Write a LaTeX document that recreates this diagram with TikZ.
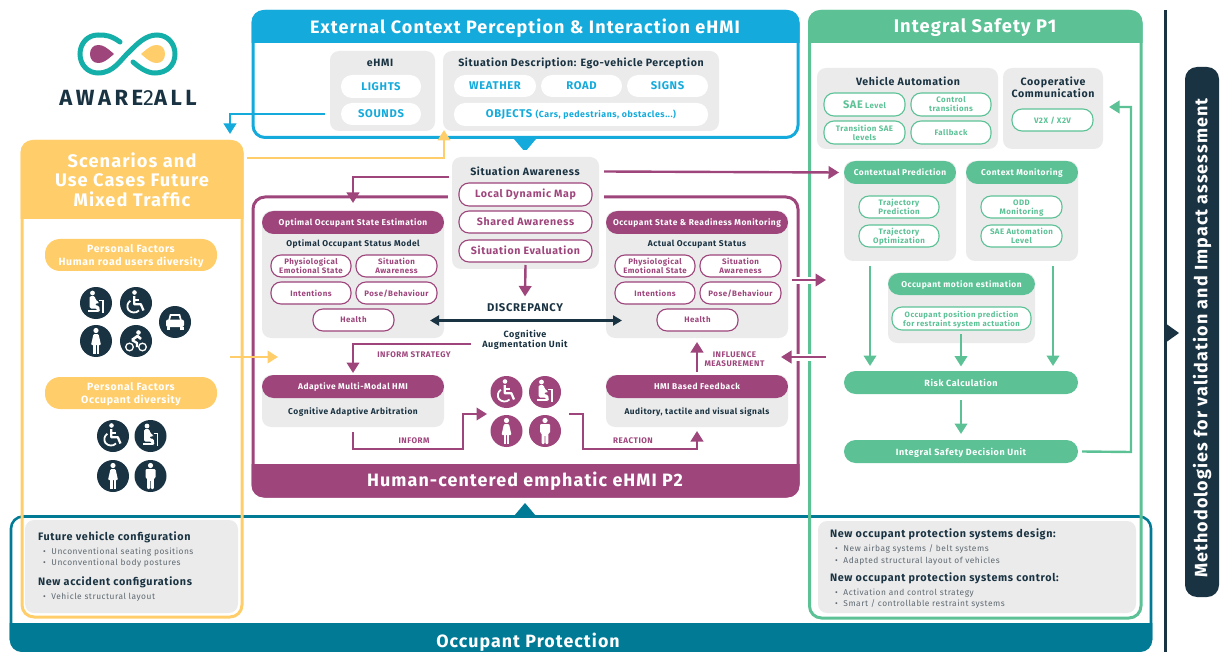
\documentclass[tikz,border=0pt]{standalone}
\usepackage{fontspec}
\setmainfont{Fira Sans}[LetterSpace=6]
\usetikzlibrary{arrows.meta}
\definecolor{cblue}{HTML}{14ABDC}
\definecolor{cyel}{HTML}{FFCE6A}
\definecolor{cpur}{HTML}{9E457C}
\definecolor{cgrn}{HTML}{5CC296}
\definecolor{cteal}{HTML}{017A96}
\definecolor{cdark}{HTML}{1A3342}
\definecolor{cgrey}{HTML}{EBEBEB}
\definecolor{ctext}{HTML}{5F6A72}
\definecolor{clogo}{HTML}{14AFA8}
\newcommand{\ft}[2]{\fontsize{#1}{#2}\selectfont}
\newcommand{\BX}[7]{\node[#1,minimum width={(#4)-(#2)},minimum height={(#5)-(#3)}] (#6) at ({((#2)+(#4))/2},{((#3)+(#5))/2}) {#7};}
\tikzset{
 bxbase/.style={rectangle,inner sep=0pt,outer sep=0pt,align=center},
 greyb/.style={bxbase,fill=cgrey,rounded corners=9pt},
 framed/.style={bxbase,draw=#1,line width=3pt,rounded corners=12pt},
 pillP/.style={bxbase,draw=cpur,fill=white,line width=1.1pt,rounded corners=10pt,text=cpur,text depth=0pt,font=\bfseries\ft{7.9}{9}},
 pillPL/.style={pillP,text depth=2pt,font=\bfseries\ft{10.6}{12}},
 pillG/.style={bxbase,draw=cgrn,fill=white,line width=1.1pt,rounded corners=10pt,text=cgrn,text depth=0pt,font=\bfseries\ft{7.9}{9}},
 pillB/.style={bxbase,fill=white,rounded corners=11pt,text=cblue,font=\bfseries\ft{11.2}{12}},
 headP/.style={bxbase,fill=cpur,rounded corners=11.5pt,text=white,text depth=0pt,font=\bfseries\ft{8.4}{10}},
 headG/.style={bxbase,fill=cgrn,rounded corners=11.5pt,text=white,text depth=0pt,font=\bfseries\ft{8.4}{10}},
 headY/.style={bxbase,fill=cyel,rounded corners=15pt,text=white,text depth=0pt,font=\bfseries\ft{10.5}{13}},
 ttl/.style={inner sep=0pt,outer sep=0pt,text=cdark,align=center,font=\bfseries\ft{#1}{12}},
 lbl/.style={inner sep=0pt,outer sep=0pt,text=cpur,align=center,font=\bfseries\ft{8.1}{8.8}},
 big/.style={inner sep=0pt,outer sep=0pt,text=white,align=center,font=\bfseries\ft{#1}{19.5}},
 bul/.style={inner sep=0pt,outer sep=0pt,anchor=west,text=ctext,font=\ft{8.4}{10}},
 hd/.style={inner sep=0pt,outer sep=0pt,anchor=west,text=cdark,font=\bfseries\ft{10.8}{11}},
 arw/.style={line width=2.4pt,-{Triangle[width=12.5pt,length=10.5pt]},draw=#1},
 halo/.style={draw=white,line width=7pt},
 iconP/.style={circle,inner sep=0pt,minimum size=32pt,fill=cpur},
 iconD/.style={circle,inner sep=0pt,minimum size=32pt,fill=cdark},
 icwheel/.pic={
  \fill[white] (-1.5,-10.5) circle (2.3);
  \draw[white,line width=2.3pt,line join=round] (-1.8,-7)--(-1.8,1.2)--(4.8,1.2)--(7.5,7.5);
  \draw[white,line width=1.8pt] (-1.8,-3)--(3,-3);
  \draw[white,line width=1.8pt] (-5.6,-2.2) .. controls (-9,0) and (-9.5,4) .. (-7.5,7) .. controls (-5,10) and (0,10.5) .. (3,7.5);
 },
 icseat/.pic={
  \fill[white] (-3.5,-10) circle (2.4);
  \fill[white,rounded corners=1.5pt] (-6.5,-7)--(-1,-7)--(-0.5,-3)--(3,-1)--(2.5,1)--(-1,0)--(-1,2.5)--(3,2.5)--(4,9)--(1.5,9)--(1,5.5)--(-6.5,5.5)--cycle;
  \draw[white,line width=1.5pt] (3,-2.5)--(7,-2.5)--(7,9.5);
  \fill[white] (-8,7)--(2,7)--(2,9)--(-8,9)--cycle;
 },
 icwoman/.pic={
  \fill[white] (0,-10.5) circle (2.6);
  \fill[white,rounded corners=1pt] (-2.5,-7)--(2.5,-7)--(5,4)--(-5,4)--cycle;
  \fill[white] (-2.6,4)--(-0.5,4)--(-0.5,13)--(-2.6,13)--cycle;
  \fill[white] (0.5,4)--(2.6,4)--(2.6,13)--(0.5,13)--cycle;
 },
 icman/.pic={
  \fill[white] (0,-10.5) circle (2.6);
  \fill[white,rounded corners=1pt] (-5,-7)--(5,-7)--(5,2)--(3.4,2)--(3.4,13)--(0.4,13)--(0.4,4)--(-0.4,4)--(-0.4,13)--(-3.4,13)--(-3.4,2)--(-5,2)--cycle;
 },
 icbike/.pic={
  \draw[white,line width=1.3pt] (-6.5,6) circle (3.8);
  \draw[white,line width=1.3pt] (6.5,6) circle (3.8);
  \fill[white] (2.5,-8.5) circle (2.3);
  \draw[white,line width=2.6pt,line join=round] (-4,-1)--(1.5,-5)--(5,-2);
  \draw[white,line width=2.4pt,line join=round] (-4,-1)--(1,2)--(1,6);
 },
 iccar/.pic={
  \draw[white,line width=1.7pt] (-6,-1.5)--(-4.5,-7)--(4.5,-7)--(6,-1.5);
  \fill[white,rounded corners=2pt] (-9,-2.5)--(9,-2.5)--(9,5)--(-9,5)--cycle;
  \fill[white] (-8.5,5)--(-5,5)--(-5,8)--(-8.5,8)--cycle;
  \fill[white] (5,5)--(8.5,5)--(8.5,8)--(5,8)--cycle;
 },
}
\begin{document}
\begin{tikzpicture}[x=1pt,y=-1pt]
\useasboundingbox (0,0) rectangle (1220,652);
% ---- Occupant protection (teal)
\draw[cteal,line width=2.6pt,rounded corners=12pt] (11,640)--(11,516.5)--(1151,516.5)--(1151,640);
\fill[cteal] (9.7,623) {[rounded corners=12pt]--(9.7,652)--(1152.3,652)}--(1152.3,623)--cycle;
\node[big=17.8] (optitle) at (528,642) {Occupant Protection};
\fill[cteal] (514,516) -- (525,503) -- (536,516) -- cycle;
% ---- Logo
\draw[clogo,line width=5pt,line cap=round] (120,42) .. controls (112,36) and (105,34.5) .. (98,35) .. controls (87,35) and (80,44) .. (80,54) .. controls (80,65) and (88,73) .. (98,73) .. controls (114,73) and (120,60) .. (130,51) .. controls (138,43) and (146,35) .. (157,35) .. controls (168,35) and (175,44) .. (175,54) .. controls (175,65) and (167,73) .. (155,73) .. controls (147,73) and (140,68) .. (133,62);
\fill[cpur] (114,54) .. controls (106,47) and (103,45) .. (98,45) .. controls (93,45) and (90,49) .. (90,54) .. controls (90,59) and (93,63) .. (98,63) .. controls (103,63) and (106,61) .. (114,54) -- cycle;
\fill[cyel] (141,54) .. controls (149,47) and (152,45) .. (157,45) .. controls (162,45) and (165,49) .. (165,54) .. controls (165,59) and (162,63) .. (157,63) .. controls (152,63) and (149,61) .. (141,54) -- cycle;
\node[inner sep=0pt,text=cdark,font=\bfseries\ft{22}{24}\addfontfeature{LetterSpace=16}] (logotext) at (128,98) {AWARE{\mdseries 2}ALL};
% ---- External context (blue)
\BX{framed=cblue}{253}{11.5}{798}{137.5}{extbox}{}
\fill[cblue] (251.5,43) {[rounded corners=12pt]--(251.5,10)--(799.5,10)}--(799.5,43)--cycle;
\node[big=18] (exttitle) at (525,28) {External Context Perception \& Interaction eHMI};
\fill[cblue] (514,139) -- (525,152) -- (536,139) -- cycle;
\BX{greyb}{330}{51}{435}{131}{ehmi}{}
\node[ttl=10.6] (ehmit) at (380,63) {eHMI};
\BX{pillB}{341}{75}{421}{98}{lights}{LIGHTS}
\BX{pillB}{341}{103}{421}{125}{sounds}{SOUNDS}
\BX{greyb}{443}{51}{719}{131}{sdesc}{}
\node[ttl=10.6] (sdesct) at (581,63) {Situation Description: Ego-vehicle Perception};
\BX{pillB}{454}{75}{536}{97}{weather}{WEATHER}
\BX{pillB}{541}{75}{622}{97}{road}{ROAD}
\BX{pillB}{627}{75}{708}{97}{signs}{SIGNS}
\BX{pillB}{454}{103}{708}{126}{objects}{OBJECTS {\ft{8.8}{10}(Cars, pedestrians, obstacles...)}}
% ---- Integral safety (green) frame
\BX{framed=cgrn}{809.5}{11.5}{1141}{618}{grnbox}{}
\fill[cgrn] (808,43) {[rounded corners=12pt]--(808,10)--(1142.5,10)}--(1142.5,43)--cycle;
\node[big=18.3] (grntitle) at (975,27.5) {Integral Safety P1};
\BX{greyb}{817}{68}{998}{149}{vauto}{}
\node[ttl=10.6] (vautot) at (908,81) {Vehicle Automation};
\BX{pillG}{824}{93}{905}{116}{sae}{{\ft{11}{12}SAE} Level}
\BX{pillG}{911}{93}{991}{116}{ctrans}{Control\\transitions}
\BX{pillG}{824}{121}{905}{144}{trsae}{Transition SAE\\levels}
\BX{pillG}{911}{121}{991}{144}{fallb}{Fallback}
\BX{greyb}{1003}{68}{1103}{149}{coop}{}
\node[ttl=10.6] (coopt) at (1053,87) {Cooperative\\Communication};
\BX{pillG}{1012}{109}{1093}{131}{v2x}{V2X / X2V}
\BX{greyb}{844}{161}{956}{261}{cpred}{}
\BX{headG}{844}{161}{956}{184}{cpredh}{Contextual Prediction}
\BX{pillG}{859}{196}{939}{218}{tpred}{Trajectory\\Prediction}
\BX{pillG}{859}{225}{939}{247}{topt}{Trajectory\\Optimization}
\BX{greyb}{966}{161}{1078}{261}{cmon}{}
\BX{headG}{966}{161}{1078}{184}{cmonh}{Context Monitoring}
\BX{pillG}{981}{196}{1062}{218}{oddm}{ODD\\Monitoring}
\BX{pillG}{981}{225}{1062}{247}{saeal}{SAE Automation\\Level}
\BX{greyb}{888}{273}{1035}{343}{omot}{}
\BX{headG}{888}{273}{1035}{295}{omoth}{Occupant motion estimation}
\BX{pillG,font=\bfseries\ft{7.7}{9}}{892}{307}{1031}{330}{opos}{Occupant position prediction\\for restraint system actuation}
\BX{headG,font=\bfseries\ft{9}{10}}{844}{371}{1078}{394}{risk}{Risk Calculation}
\BX{headG,font=\bfseries\ft{9}{10}}{844}{440}{1078}{463}{decis}{Integral Safety Decision Unit}
\draw[arw=cgrn] ([yshift=-5pt]cpred.south -| 870,0) -- (870,366);
\draw[arw=cgrn] ([yshift=9pt]omot.south -| 961,0) -- ([yshift=4.5pt]risk.north -| 961,0);
\draw[arw=cgrn] ([yshift=-5pt]cmon.south -| 1053,0) -- (1053,366);
\draw[arw=cgrn] ([yshift=-6pt]risk.south) -- ([yshift=6pt]decis.north);
\coordinate (fbk) at (1131,452);
\draw[arw=cgrn] ([xshift=4pt]decis.east) -- (fbk) -- (1131,107) -- ([xshift=6pt]coop.east |- 0,107);
% ---- Purple frame
\BX{framed=cpur}{253}{197}{798}{496}{purbox}{}
\fill[cpur] (251.5,464) -- (799.5,464) {[rounded corners=12pt]--(799.5,497.5)--(251.5,497.5)}--cycle;
\node[big=17.9] (purtitle) at (525,481) {Human-centered emphatic eHMI P2};
% ---- Situation awareness
\fill[white] (448,150) rectangle (604,272);
\BX{greyb}{452}{157}{599}{269}{sa}{}
\node[ttl=10.6] (sat) at (525,171) {Situation Awareness};
\BX{pillPL}{459}{183}{592}{206}{ldm}{Local Dynamic Map}
\BX{pillPL}{459}{211}{592}{233}{shaw}{Shared Awareness}
\BX{pillPL}{459}{240}{592}{262}{sev}{Situation Evaluation}
\node[ttl=11.2] (disc) at (525,308) {DISCREPANCY};
\node[inner sep=0pt,outer sep=0pt,text=cdark,align=center,font=\bfseries\ft{9}{10}] (cogn) at (525,340) {Cognitive\\Augmentation Unit};
% left column
\BX{greyb}{262}{211}{444}{338}{oses}{}
\BX{headP}{262}{211}{444}{234}{osesh}{Optimal Occupant State Estimation}
\node[ttl=8.4] (osest) at (353,244) {Optimal Occupant Status Model};
\BX{pillP}{271}{255}{351}{277}{lp1}{Physiological\\Emotional State}
\BX{pillP}{356}{255}{437}{277}{lp2}{Situation\\Awareness}
\BX{pillP}{271}{282}{351}{304}{lp3}{Intentions}
\BX{pillP}{356}{282}{437}{304}{lp4}{Pose/Behaviour}
\BX{pillP}{313}{309}{394}{331}{lp5}{Health}
% right column
\BX{greyb}{606}{211}{788}{338}{osrm}{}
\BX{headP}{606}{211}{788}{234}{osrmh}{Occupant State \& Readiness Monitoring}
\node[ttl=8.4] (osrmt) at (697,244) {Actual Occupant Status};
\BX{pillP}{615}{255}{695}{277}{rp1}{Physiological\\Emotional State}
\BX{pillP}{700}{255}{781}{277}{rp2}{Situation\\Awareness}
\BX{pillP}{615}{282}{695}{304}{rp3}{Intentions}
\BX{pillP}{700}{282}{781}{304}{rp4}{Pose/Behaviour}
\BX{pillP}{657}{309}{738}{331}{rp5}{Health}
% lower boxes
\BX{greyb}{262}{375}{444}{427}{ammh}{}
\BX{headP}{262}{375}{444}{398}{ammhh}{Adaptive Multi-Modal HMI}
\node[ttl=8.4] (cogarb) at (353,412) {Cognitive Adaptive Arbitration};
\BX{greyb}{606}{375}{788}{427}{hmif}{}
\BX{headP}{606}{375}{788}{398}{hmifh}{HMI Based Feedback}
\node[ttl=8.3] (audit) at (697,412) {Auditory, tactile and visual signals};
% people
\node[iconP] (p1) at (506.5,392) {}; \pic at (p1) {icwheel};
\node[iconP] (p2) at (545,392) {}; \pic at (p2) {icseat};
\node[iconP] (p3) at (506.5,431) {}; \pic at (p3) {icwoman};
\node[iconP] (p4) at (545,431) {}; \pic at (p4) {icman};
% purple connectors
\coordinate (saL) at (449,177);
\coordinate (saR) at (604,171.5);
\draw[arw=cpur] (saL) -- (353,177) -- ([yshift=8pt]osesh.north);
\draw[arw=cpur] (saR) -- ([xshift=-5pt]cpredh.west);
\draw[arw=cpur] ([yshift=4pt]sa.south) -- ([yshift=7.5pt]disc.north);
\draw[cdark,line width=2.2pt,{Triangle[width=10pt,length=9pt]}-{Triangle[width=10pt,length=9pt]}] (430,320.5) -- (622,320.5);
\coordinate (cauL) at (471,344);
\draw[arw=cpur] (cauL) -- (353,344) -- ([yshift=2pt]ammhh.north);
\node[lbl] (linf) at (414,355) {INFORM STRATEGY};
\coordinate (ammS) at (353,432);
\coordinate (pIn) at (487,414);
\draw[arw=cpur] (ammS) -- (353,449) -- (463,449) -- (463,414) -- (pIn);
\node[lbl] (linform) at (414,441) {INFORM};
\coordinate (pOut) at (569,414);
\coordinate (fbIn) at (697,431);
\draw[arw=cpur] (pOut) -- (583,414) -- (583,449) -- (697,449) -- (fbIn);
\node[lbl] (lreact) at (633,441) {REACTION};
\draw[arw=cpur] ([yshift=3pt]hmifh.north) -- ([yshift=-4pt]osrm.south);
\node[lbl] (lmeas) at (734.5,359) {INFLUENCE\\MEASUREMENT};
% crossing arrows
\draw[halo] (792,280) -- (819,280);
\draw[arw=cpur] (792,280) -- ([xshift=1pt]825,280);
\draw[halo] (826,357) -- (786,357);
\draw[arw=cpur] (826,357) -- ([xshift=-1pt]782,357);
% ---- Yellow frame
\BX{framed=cyel}{22}{141.5}{242}{617}{yelbox}{}
\fill[cyel] (20.5,219) {[rounded corners=12pt]--(20.5,140)--(243.5,140)}--(243.5,219)--cycle;
\node[big=18.2] (yeltitle) at (132,179.3) {Scenarios and\\Use Cases Future\\Mixed Traffic};
\BX{headY}{45}{239}{217}{271}{pf1}{Personal Factors\\Human road users diversity}
\node[iconD] (d1) at (96,303) {}; \pic at (d1) {icseat};
\node[iconD] (d2) at (136,303) {}; \pic at (d2) {icwheel};
\node[iconD] (d3) at (175,322) {}; \pic at (d3) {iccar};
\node[iconD] (d4) at (96,341) {}; \pic at (d4) {icwoman};
\node[iconD] (d5) at (136,341) {}; \pic at (d5) {icbike};
\BX{headY}{45}{377}{217}{409}{pf2}{Personal Factors\\Occupant diversity}
\node[iconD] (e1) at (113,436) {}; \pic at (e1) {icwheel};
\node[iconD] (e2) at (150.5,436) {}; \pic at (e2) {icseat};
\node[iconD] (e3) at (113,476) {}; \pic at (e3) {icwoman};
\node[iconD] (e4) at (150.5,476) {}; \pic at (e4) {icman};
\coordinate (yelOut) at (247,158);
\draw[arw=cyel] (yelOut) -- (444,158) -- (444,130);
\coordinate (yelMid) at (230,357);
\draw[arw=cyel] (yelMid) -- (278,357);
\draw[arw=cblue] ([xshift=-5pt]ehmi.west |- sounds.center) -- (230,114) -- (230,134);
% ---- Protection detail boxes
\BX{greyb}{25}{520}{238}{613}{fvc}{}
\node[hd] (fvc1) at (38,537) {Future vehicle configuration};
\node[bul] (fvc2) at (43,552) {•\hspace{3pt} Unconventional seating positions};
\node[bul] (fvc3) at (43,563) {•\hspace{3pt} Unconventional body postures};
\node[hd] (fvc4) at (38,582) {New accident configurations};
\node[bul] (fvc5) at (43,597) {•\hspace{3pt} Vehicle structural layout};
\BX{greyb}{818}{521}{1136}{613}{nops}{}
\node[hd] (nops1) at (830,534) {New occupant protection systems design:};
\node[bul] (nops2) at (835,549) {•\hspace{3pt} New airbag systems / belt systems};
\node[bul] (nops3) at (835,561) {•\hspace{3pt} Adapted structural layout of vehicles};
\node[hd] (nops4) at (830,578) {New occupant protection systems control:};
\node[bul] (nops5) at (835,593) {•\hspace{3pt} Activation and control strategy};
\node[bul] (nops6) at (835,604) {•\hspace{3pt} Smart / controllable restraint systems};
% ---- Methodologies
\draw[cdark,line width=3pt] (1165,10) -- (1165,652);
\fill[cdark] (1165,323) -- (1179,333) -- (1165,343) -- cycle;
\BX{bxbase,fill=cdark,rounded corners=12pt}{1185}{67}{1219}{597}{meth}{}
\node[big=17.9,rotate=90] (metht) at (1202,338) {Methodologies for validation and Impact assessment};
\end{tikzpicture}
\end{document}
